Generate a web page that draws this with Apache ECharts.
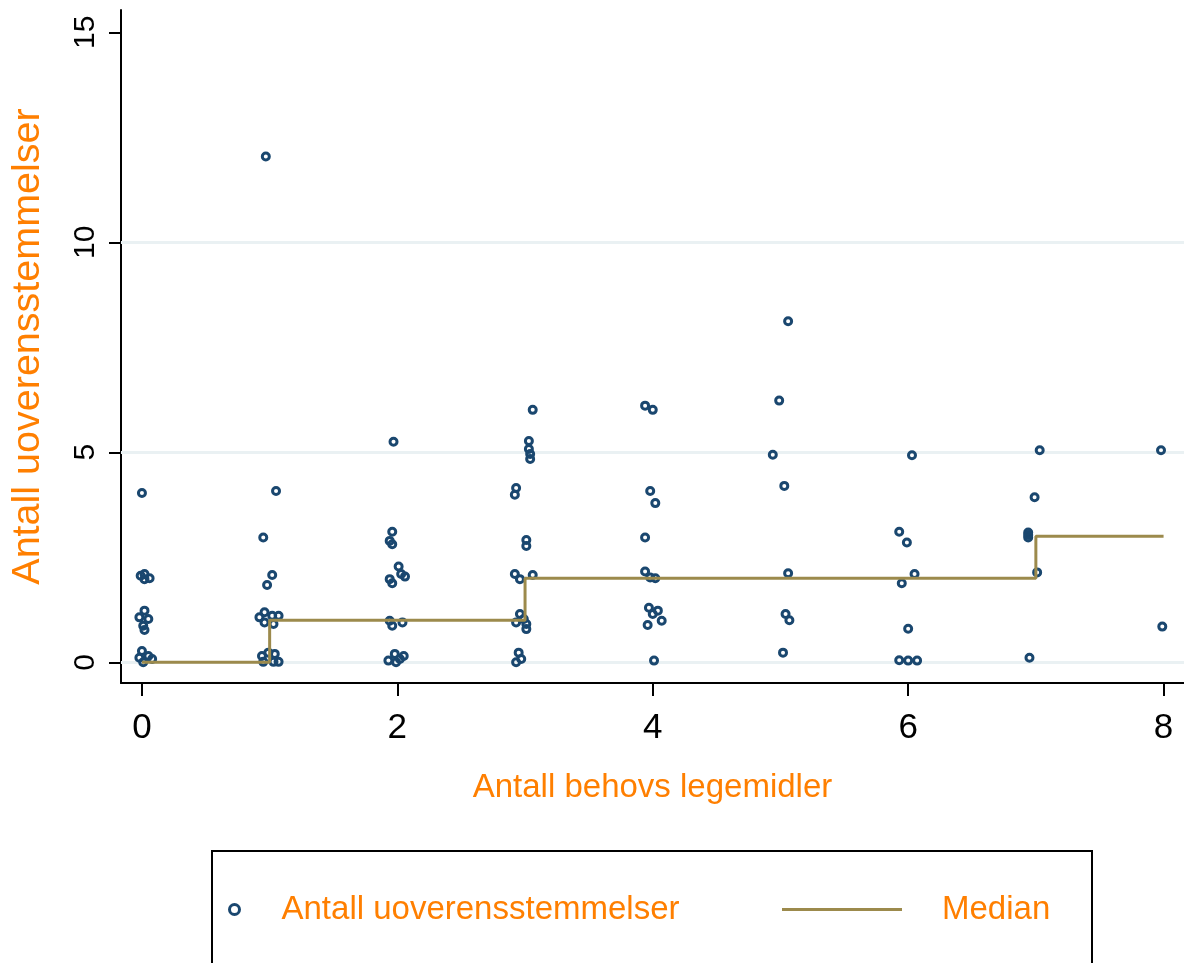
<!DOCTYPE html>
<html>
<head>
<meta charset="utf-8">
<script src="https://cdn.jsdelivr.net/npm/echarts@6/dist/echarts.min.js"></script>
<style>
html,body{margin:0;padding:0;background:#fff;}
#chart{width:1184px;height:963px;}
</style>
</head>
<body>
<div id="chart"></div>
<script>
// Jittered scatter points (x = Antall behovs legemidler, y = Antall uoverensstemmelser)
var pointX = [
  0.00, -0.01, 0.02, 0.02, 0.06, 0.02, -0.02, 0.05, 0.01, 0.02, 0.00, -0.02, 0.05, 0.08, 0.01,
  0.97, 1.05, 0.95, 1.02, 0.98, 0.92, 0.96, 1.02, 1.07, 0.96, 1.03, 0.94, 0.99, 1.04, 1.07, 1.03, 0.95,
  1.97, 1.96, 1.94, 1.96, 2.01, 2.06, 1.94, 1.96, 2.03, 1.94, 1.96, 2.04, 1.93, 1.98, 2.05, 1.99, 2.02,
  3.06, 3.03, 3.03, 3.04, 3.04, 2.93, 2.92, 3.01, 3.01, 2.92, 2.96, 3.06, 2.96, 2.93, 3.01, 3.01, 2.99, 2.95, 2.97, 2.93,
  3.94, 4.00, 3.98, 4.02, 3.94, 3.94, 3.98, 4.02, 3.97, 4.04, 3.96, 4.07, 4.00, 4.01,
  5.06, 4.99, 4.94, 5.03, 5.06, 5.04, 5.07, 5.02,
  6.03, 5.93, 5.99, 6.05, 5.95, 6.00, 5.93, 6.00, 6.07,
  7.03, 6.99, 6.94, 6.94, 6.94, 7.01, 6.95,
  7.98, 7.99
];
var pointY = [
  4.03, 2.06, 2.10, 1.98, 2.00, 1.23, 1.07, 1.03, 0.87, 0.77, 0.27, 0.11, 0.15, 0.08, 0.00,
  12.04, 4.08, 2.97, 2.08, 1.84, 1.07, 1.19, 1.11, 1.11, 0.95, 0.91, 0.15, 0.23, 0.20, 0.01, 0.01, 0.01,
  5.25, 3.11, 2.89, 2.81, 2.28, 2.04, 1.98, 1.88, 2.10, 0.99, 0.87, 0.95, 0.04, 0.20, 0.15, 0.00, 0.08,
  6.01, 5.27, 5.08, 4.96, 4.84, 4.15, 3.99, 2.91, 2.77, 2.10, 1.98, 2.08, 1.15, 0.95, 0.91, 0.79, 1.03, 0.23, 0.08, 0.00,
  6.11, 6.01, 4.08, 3.79, 2.97, 2.16, 2.02, 2.00, 1.30, 1.23, 0.89, 0.99, 1.15, 0.04,
  8.12, 6.23, 4.94, 4.20, 2.12, 1.15, 1.00, 0.23,
  4.93, 3.11, 2.85, 2.10, 1.88, 0.80, 0.05, 0.04, 0.04,
  5.05, 3.93, 3.09, 2.97, 3.03, 2.14, 0.11,
  5.05, 0.85
];
// Median step line
var medianX = [0, 1, 3, 7, 8];
var medianY = [0, 1, 2, 3, 3];
// Axis ticks
var xTicks = [0, 2, 4, 6, 8];
var yTicks = [0, 5, 10, 15];
var gridValues = [0, 5, 10];

var scatterName = 'Antall uoverensstemmelser';
var medianName = 'Median';
var xTitle = 'Antall behovs legemidler';
var yTitle = 'Antall uoverensstemmelser';

var orange = '#ff7f00';
var navy = '#1a476f';
var olive = '#9c8a4c';
var font = "'Liberation Sans', Arial, sans-serif";

var scatterData = pointX.map(function (x, i) { return [x, pointY[i]]; });
var medianData = medianX.map(function (x, i) { return [x, medianY[i]]; });

var chart = echarts.init(document.getElementById('chart'), null, {renderer: 'canvas'});
chart.setOption({
  animation: false,
  backgroundColor: '#ffffff',
  grid: {left: 121, top: 10, right: 0, bottom: 280, containLabel: false},
  xAxis: {
    type: 'value', min: -0.164, max: 8.16,
    name: xTitle, nameLocation: 'middle', nameGap: 88,
    nameTextStyle: {color: orange, fontSize: 33, fontFamily: font},
    axisLine: {show: true, onZero: false, lineStyle: {color: '#000', width: 2}},
    axisTick: {show: true, customValues: xTicks, length: 13, lineStyle: {color: '#000', width: 2}},
    axisLabel: {customValues: xTicks, fontSize: 35, color: '#000', fontFamily: font, margin: 28},
    splitLine: {show: false}
  },
  yAxis: {
    type: 'value', min: -0.493, max: 15.53,
    name: yTitle, nameLocation: 'middle', nameGap: 73, nameRotate: 90,
    nameTextStyle: {color: orange, fontSize: 39.5, fontFamily: font},
    axisLine: {show: true, onZero: false, lineStyle: {color: '#000', width: 2}},
    axisTick: {show: true, customValues: yTicks, length: 12, lineStyle: {color: '#000', width: 2}},
    axisLabel: {customValues: yTicks, fontSize: 30, color: '#000', fontFamily: font, rotate: 90, margin: 20},
    splitLine: {show: false}
  },
  legend: [
    {
      left: 228, top: 893, padding: 0, itemWidth: 10, itemHeight: 10,
      data: [{name: scatterName, icon: 'circle', itemStyle: {color: '#fff', borderColor: navy, borderWidth: 3}}],
      textStyle: {color: orange, fontSize: 33, fontFamily: font, lineHeight: 33, padding: [0, 0, 0, 37]},
      selectedMode: false
    },
    {
      left: 782, top: 893, padding: 0, itemWidth: 120, itemHeight: 3,
      data: [{name: medianName, icon: 'rect'}],
      itemStyle: {color: olive},
      textStyle: {color: orange, fontSize: 33, fontFamily: font, lineHeight: 33, padding: [0, 0, 0, 35]},
      selectedMode: false
    }
  ],
  graphic: [
    {type: 'rect', shape: {x: 212, y: 851, width: 880, height: 200}, style: {fill: 'none', stroke: '#000', lineWidth: 2}, silent: true, z: 100}
  ],
  series: [
    {
      name: 'grid', type: 'scatter', data: [], z: 1, silent: true,
      markLine: {
        z: 1, silent: true, symbol: ['none', 'none'], label: {show: false},
        lineStyle: {color: '#eaf1f3', width: 3, type: 'solid'},
        data: gridValues.map(function (v) { return {yAxis: v}; })
      }
    },
    {
      name: scatterName, type: 'scatter', data: scatterData, z: 3,
      symbol: 'circle', symbolSize: 7,
      itemStyle: {color: 'rgba(255,255,255,0)', borderColor: navy, borderWidth: 3, opacity: 1}
    },
    {
      name: medianName, type: 'line', data: medianData, step: 'end', z: 6,
      symbol: 'none', showSymbol: false,
      lineStyle: {color: olive, width: 3},
      itemStyle: {color: olive}
    }
  ]
});
</script>
</body>
</html>
